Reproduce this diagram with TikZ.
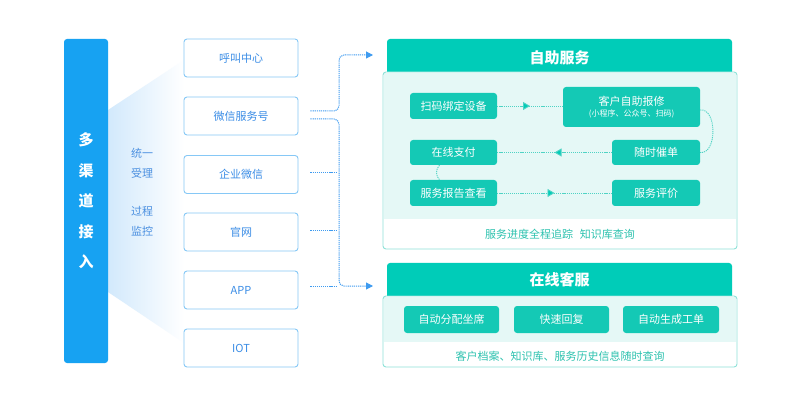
\documentclass[tikz,border=0pt]{standalone}
\usepackage{fontspec}
\setmainfont{Noto Sans CJK SC}
\usetikzlibrary{arrows.meta,decorations.markings,calc}
\definecolor{barblue}{HTML}{17A2F2}
\definecolor{fanblue}{HTML}{D2E9FC}
\definecolor{chborder}{HTML}{86C8F6}
\definecolor{chtext}{HTML}{3B8DE6}
\definecolor{dotblue}{HTML}{3E9BF0}
\definecolor{lbltext}{HTML}{4A8FE0}
\definecolor{tealhead}{HTML}{00CCB8}
\definecolor{tealbox}{HTML}{14C9B5}
\definecolor{tealbody}{HTML}{E5F8F6}
\definecolor{tealborder}{HTML}{8EE2D8}
\definecolor{tealline}{HTML}{4FD3C4}
\definecolor{tealtext}{HTML}{2DC2AF}
\tikzset{
  chbox/.style={draw=chborder, line width=0.9pt, fill=white, rounded corners=3pt,
    minimum width=114pt, minimum height=38pt, text=chtext, font=\fontsize{11}{13}\selectfont},
  bluedot/.style={draw=dotblue, line width=1pt, dash pattern=on 1.2pt off 0.9pt},
  blueend/.style={-{Triangle[length=7pt,width=7pt,fill=dotblue]}},
  headbox/.style={fill=tealhead, rounded corners=3pt, minimum width=345pt, minimum height=37pt},
  headtext/.style={text=white, font=\fontsize{15}{17}\selectfont\bfseries},
  innerbox/.style={fill=tealbox, rounded corners=3pt, text=white, font=\fontsize{11}{13}\selectfont},
  tealdot/.style={draw=tealline, line width=0.9pt, dash pattern=on 1.2pt off 0.9pt},
  midarrow/.style={postaction={decorate}, decoration={markings,
    mark=at position 0.5 with {\arrow{Triangle[length=7pt,width=8pt,fill=tealhead]}}}},
  foot/.style={text=tealtext, font=\fontsize{11}{13}\selectfont},
  sidelbl/.style={text=lbltext, align=center, font=\fontsize{11}{20}\selectfont}
}
\begin{document}
\begin{tikzpicture}[x=1pt,y=-1pt]
\useasboundingbox (0,0) rectangle (800,403);
\fill[white] (0,0) rectangle (800,403);

% gradient fan
\shade[left color=fanblue, right color=white] (108,110) -- (184,60) -- (184,343) -- (108,292) -- cycle;

% left bar
\node[fill=barblue, rounded corners=3pt, minimum width=44pt, minimum height=324pt,
  text=white, align=center, font=\fontsize{15}{30.5}\selectfont\bfseries] (bar) at (86,201)
  {多\\渠\\道\\接\\入};

% side labels
\node[sidelbl] (lbl1) at (142,163) {统一\\受理};
\node[sidelbl] (lbl2) at (142,221.5) {过程\\监控};

% channels
\node[chbox] (c1) at (241,58) {呼叫中心};
\node[chbox] (c2) at (241,116) {微信服务号};
\node[chbox] (c3) at (241,174.5) {企业微信};
\node[chbox] (c4) at (241,232) {官网};
\node[chbox] (c5) at (241,290) {APP};
\node[chbox] (c6) at (241,348) {IOT};

% panel 1
\node[headbox] (h1) at (559.5,57.5) {};
\node[headtext] (t1) at (h1) {自助服务};
\fill[white, rounded corners=3pt] (383,72) rectangle (737,249);
\fill[tealbody] (384,73) rectangle (736,219);
\draw[tealborder, line width=0.9pt, rounded corners=3pt] (383,72) rectangle (737,249);

\node[innerbox, minimum width=87pt, minimum height=26pt] (b1) at (453.5,106) {扫码绑定设备};
\node[innerbox, minimum width=137pt, minimum height=40pt, align=center] (b2) at (631.5,107)
  {客户自助报修\\[-2pt]{\fontsize{8}{9}\selectfont (小程序、公众号、扫码)}};
\node[innerbox, minimum width=87pt, minimum height=25pt] (b3) at (453.5,152.5) {在线支付};
\node[innerbox, minimum width=88pt, minimum height=25pt] (b4) at (656,152.5) {随时催单};
\node[innerbox, minimum width=87pt, minimum height=26pt] (b5) at (453.5,193) {服务报告查看};
\node[innerbox, minimum width=88pt, minimum height=26pt] (b6) at (656,193) {服务评价};

\draw[tealdot, midarrow] (b1.east) -- (b1.east -| b2.west);
\draw[tealdot] ([yshift=-3pt]b2.east) .. controls +(17,-2) and +(17,2) .. (b4.east);
\draw[tealdot, midarrow] (b4.west) -- (b3.east);
\draw[tealdot] ([xshift=-14pt]b3.south) .. controls +(-4,4) and +(-4,-4) .. ([xshift=-14pt]b5.north);
\draw[tealdot, midarrow] (b5.east) -- (b6.west);

\node[foot] (f1) at (560,234) {服务进度全程追踪\hspace{0.6em}知识库查询};

% panel 2
\node[headbox, minimum height=36pt] (h2) at (559.5,281) {};
\node[headtext] (t2) at (559.5,279.5) {在线客服};
\fill[white, rounded corners=3pt] (383,296) rectangle (737,367);
\fill[tealbody] (384,297) rectangle (736,342);
\draw[tealborder, line width=0.9pt, rounded corners=3pt] (383,296) rectangle (737,367);

\node[innerbox, minimum width=95pt, minimum height=27pt] (d1) at (451.5,319.5) {自动分配坐席};
\node[innerbox, minimum width=95pt, minimum height=27pt] (d2) at (561.5,319.5) {快速回复};
\node[innerbox, minimum width=96pt, minimum height=27pt] (d3) at (671,319.5) {自动生成工单};

\node[foot] (f2) at (560,356) {客户档案、知识库、服务历史信息随时查询};

% blue connectors
\coordinate (bus) at (339,0);
\coordinate (a1) at (373,55);
\coordinate (a2) at (373,286);
\draw[bluedot, blueend, rounded corners=5pt] ([xshift=12pt,yshift=5pt]c2.east) -| (bus |- a1) -- (a1);
\draw[bluedot, blueend, rounded corners=5pt] ([xshift=12pt,yshift=-3pt]c2.east) -| (bus |- a2) -- (a2);
\draw[bluedot] ([xshift=12pt,yshift=1.5pt]c3.east) -- ++(26,0);
\draw[bluedot] ([xshift=12pt,yshift=1pt]c4.east) -- ++(26,0);
\draw[bluedot] ([xshift=12pt,yshift=4pt]c5.east) -- ++(26,0);
\end{tikzpicture}
\end{document}
